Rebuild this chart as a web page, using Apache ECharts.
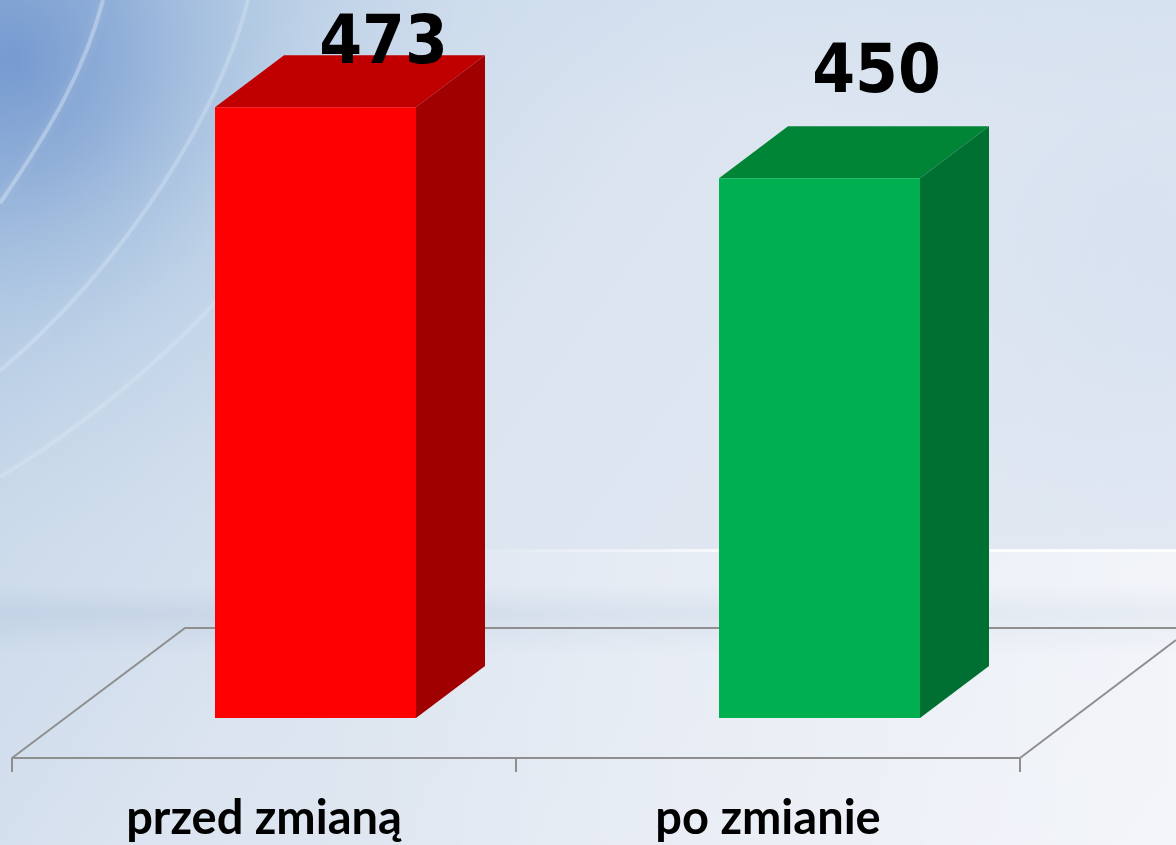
<!DOCTYPE html>
<html><head><meta charset="utf-8">
<style>html,body{margin:0;padding:0;background:#e3e9f3}#c{width:1176px;height:845px}</style>
<script src="https://cdn.jsdelivr.net/npm/echarts@6/dist/echarts.min.js"></script>
</head><body><div id="c"></div>
<script>
const categories = ['przed zmianą', 'po zmianie'];
const values = [473, 450];
const frontColors = ['#ff0000', '#00b050'];
const topColors = ['#c00000', '#008537'];
const sideColors = ['#a00000', '#007032'];

const BAR_W = 201, DX = 69, DY = 52, SHIFT = 51.5, LABEL_DX = [68, 57], LABEL_GAP = 104, LABEL_MIN_Y = 46;
const GRAY = '#8f8f8f';
const linear = (x, y, x2, y2, stops) => ({type: 'linear', x, y, x2, y2, global: true,
  colorStops: stops.map(s => ({offset: s[0], color: s[1]}))});
const radial = (x, y, r, stops) => ({type: 'radial', x, y, r, global: true,
  colorStops: stops.map(s => ({offset: s[0], color: s[1]}))});
const arc = (p, w, o) => ({type: 'bezierCurve', silent: true,
  shape: {x1: p[0], y1: p[1], cpx1: p[2], cpy1: p[3], cpx2: p[4], cpy2: p[5], x2: p[6], y2: p[7]},
  style: {fill: null, stroke: 'rgba(225,236,248,' + o + ')', lineWidth: w, shadowBlur: 10, shadowColor: 'rgba(225,236,248,.6)'}});
const bg = [
  {type: 'rect', silent: true, shape: {x: 0, y: 0, width: 1176, height: 845},
    style: {fill: linear(0, 0, 1176, 845, [[0, '#a9c2df'], [.2, '#cad9ea'], [.42, '#dbe4f0'], [.7, '#e2e8f2'], [1, '#e9edf5']])}},
  {type: 'rect', silent: true, shape: {x: 0, y: 0, width: 620, height: 560},
    style: {fill: radial(10, 60, 500, [[0, 'rgba(105,145,205,.82)'], [.22, 'rgba(125,160,210,.68)'], [.55, 'rgba(165,195,225,.36)'], [1, 'rgba(200,215,235,0)']])}},
  {type: 'rect', silent: true, shape: {x: 450, y: 0, width: 726, height: 120},
    style: {fill: linear(0, 0, 0, 120, [[0, 'rgba(205,222,238,.42)'], [1, 'rgba(205,222,238,0)']])}},
  {type: 'rect', silent: true, shape: {x: 776, y: 0, width: 400, height: 550},
    style: {fill: radial(1176, 260, 400, [[0, 'rgba(205,220,238,.55)'], [1, 'rgba(205,220,238,0)']])}},
  arc([103, 0, 85, 70, 50, 130, 0, 203], 4, .4),
  arc([248, 0, 220, 110, 130, 260, 0, 371], 4, .32),
  arc([300, 195, 225, 310, 110, 410, 0, 477], 4, .3),
  {type: 'rect', silent: true, shape: {x: 0, y: 585, width: 1176, height: 70},
    style: {fill: linear(0, 585, 0, 655, [[0, 'rgba(170,190,215,0)'], [.4, 'rgba(170,190,215,.3)'], [1, 'rgba(170,190,215,0)']])}},
  {type: 'rect', silent: true, shape: {x: 0, y: 550, width: 1176, height: 295},
    style: {fill: linear(300, 0, 1176, 0, [[0, 'rgba(255,255,255,0)'], [.35, 'rgba(255,255,255,.2)'], [1, 'rgba(255,255,255,.45)']])}},
  {type: 'rect', silent: true, shape: {x: 0, y: 549, width: 1176, height: 3},
    style: {fill: linear(470, 0, 800, 0, [[0, 'rgba(255,255,255,0)'], [1, 'rgba(255,255,255,.9)']])}},
  {type: 'polyline', silent: true, shape: {points: [[12, 758], [185, 628], [1176, 628]]},
    style: {fill: null, stroke: GRAY, lineWidth: 2}},
  {type: 'line', silent: true, shape: {x1: 1020, y1: 758, x2: 1176, y2: 640},
    style: {stroke: GRAY, lineWidth: 2}}
];

function renderBar(params, api) {
  const i = params.dataIndex;
  const top = api.coord([i, api.value(1)]);
  const base = api.coord([i, 275]);
  const l = top[0] + SHIFT - BAR_W / 2, r = l + BAR_W, t = top[1], b = base[1];
  return {type: 'group', children: [
    {type: 'polygon', shape: {points: [[l, t], [l + DX, t - DY], [r + DX, t - DY], [r, t]]}, style: {fill: topColors[i]}},
    {type: 'polygon', shape: {points: [[r, t], [r + DX, t - DY], [r + DX, b - DY], [r, b]]}, style: {fill: sideColors[i]}},
    {type: 'rect', shape: {x: l, y: t, width: BAR_W, height: b - t}, style: {fill: frontColors[i]}},
    {type: 'text', z2: 10, x: top[0] + SHIFT + LABEL_DX[i], y: Math.max(t - LABEL_GAP, LABEL_MIN_Y), scaleX: 0.92,
      style: {text: String(api.value(1)), x: 0, y: 0, align: 'center', verticalAlign: 'middle',
      font: 'bold 67px "DejaVu Sans"', fill: '#000'}}
  ]};
}

const chart = echarts.init(document.getElementById('c'), null, {renderer: 'canvas'});
chart.setOption({
  animation: false,
  backgroundColor: 'transparent',
  graphic: {elements: bg},
  grid: {left: 12, width: 1008, top: 101, height: 617},
  xAxis: {type: 'category', data: categories, offset: 40,
    axisLine: {lineStyle: {color: GRAY, width: 2}},
    axisTick: {show: true, length: 14, lineStyle: {color: GRAY, width: 2}},
    axisLabel: {color: '#000', fontFamily: 'Lato', fontWeight: 'bold', fontSize: 47, margin: 37, interval: 0}},
  yAxis: {type: 'value', min: 275, max: 475, show: false},
  series: [{type: 'custom', clip: false, coordinateSystem: 'cartesian2d',
    encode: {x: 0, y: 1},
    data: values.map((v, i) => [i, v]), renderItem: renderBar}]
});
</script></body></html>
